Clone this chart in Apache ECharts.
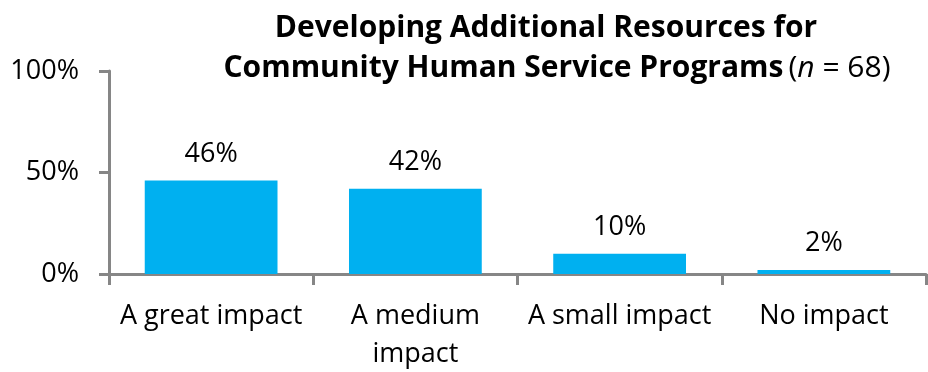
<!DOCTYPE html>
<html>
<head>
<meta charset="utf-8">
<script src="https://cdn.jsdelivr.net/npm/echarts@6/dist/echarts.min.js"></script>
<style>
  html, body { margin: 0; padding: 0; background: #fff; }
  #chart { width: 928px; height: 372px; }
</style>
</head>
<body>
<div id="chart"></div>
<script>
// Impact categories and share of programs (percent)
const categories = ['A great impact', 'A medium\nimpact', 'A small impact', 'No impact'];
const shares = [46, 42, 10, 2];
const yTicks = [0, 50, 100];

const AXIS_GREY = '#868686';
const BAR_BLUE = '#00B0F0';
const FONT = '"Open Sans", "Liberation Sans", sans-serif';
const TITLE_FONT = '"Open Sans", "Liberation Sans", sans-serif';
const TITLE_SIZE = 30;

const chart = echarts.init(document.getElementById('chart'), null, { renderer: 'canvas' });

chart.setOption({
  animation: false,
  backgroundColor: '#ffffff',
  title: [
    {
      text: 'Developing Additional Resources for',
      left: 541,
      top: 8,
      textAlign: 'center',
      textStyle: { fontFamily: TITLE_FONT, fontWeight: 'bold', fontSize: TITLE_SIZE, color: '#000' }
    },
    {
      text: '{b|Community Human Service Programs} {r|(}{i|n}{r| = 68)}',
      left: 552,
      top: 48,
      textAlign: 'center',
      textStyle: {
        rich: {
          b: { fontFamily: TITLE_FONT, fontWeight: 'bold', fontSize: TITLE_SIZE, color: '#000' },
          r: { fontFamily: TITLE_FONT, fontWeight: 'normal', fontSize: TITLE_SIZE, color: '#000' },
          i: { fontFamily: TITLE_FONT, fontWeight: 'normal', fontStyle: 'italic', fontSize: TITLE_SIZE, color: '#000' }
        }
      }
    }
  ],
  grid: { left: 109, right: 2, top: 71, bottom: 98, containLabel: false, outerBoundsMode: 'none' },
  xAxis: {
    type: 'category',
    data: categories,
    axisLine: { lineStyle: { color: AXIS_GREY, width: 3 } },
    axisTick: { show: true, length: 11, lineStyle: { color: AXIS_GREY, width: 3 } },
    axisLabel: {
      interval: 0,
      margin: 23,
      color: '#000',
      fontFamily: FONT,
      fontSize: 27,
      lineHeight: 38
    }
  },
  yAxis: {
    type: 'value',
    min: yTicks[0],
    max: yTicks[yTicks.length - 1],
    interval: yTicks[1] - yTicks[0],
    axisLine: { show: true, lineStyle: { color: AXIS_GREY, width: 3 } },
    axisTick: { show: true, length: 10, lineStyle: { color: AXIS_GREY, width: 3 } },
    splitLine: { show: false },
    axisLabel: {
      margin: 30,
      color: '#000',
      fontFamily: FONT,
      fontSize: 27,
      formatter: v => v + '%'
    }
  },
  series: [{
    type: 'bar',
    data: shares,
    barWidth: '65%',
    itemStyle: { color: BAR_BLUE },
    label: {
      show: true,
      position: 'top',
      distance: 13,
      color: '#000',
      fontFamily: FONT,
      fontSize: 27,
      formatter: p => p.value + '%'
    }
  }]
});
</script>
</body>
</html>
